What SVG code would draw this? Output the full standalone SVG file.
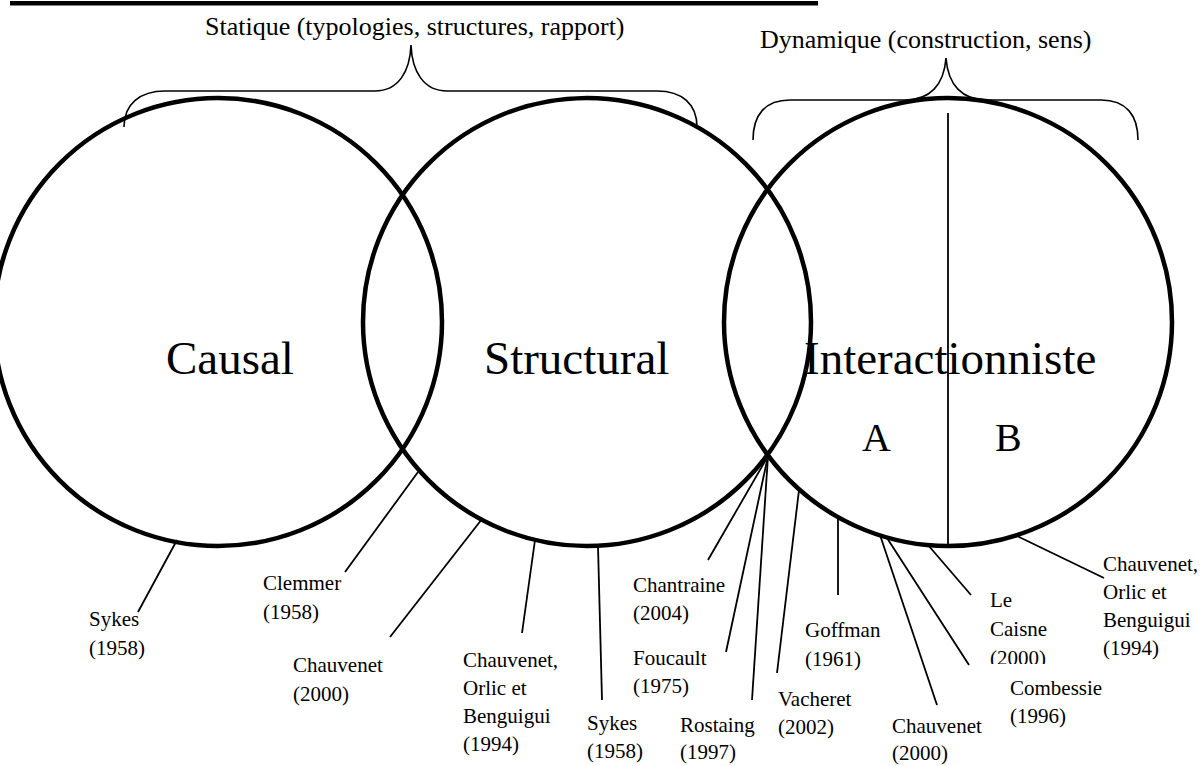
<svg xmlns="http://www.w3.org/2000/svg" width="1201" height="766" viewBox="0 0 1201 766">
<style>
.t{font-family:"Liberation Serif","Times New Roman",serif;fill:#000}
.s{font-size:21px}
.big{font-size:47px}
.top{font-size:26px}
.ring{fill:none;stroke:#000;stroke-width:4.5}
.ln{fill:none;stroke:#000;stroke-width:1.8}
.br{fill:none;stroke:#000;stroke-width:1.6}
</style>
<defs>
<clipPath id="clipLC"><rect x="980" y="570" width="100" height="94"/></clipPath>
</defs>
<rect x="10" y="1" width="808" height="4.5" fill="#000"/>
<g id="brace-statique">
<path class="br" d="M124 127 C124 104 140 91 165 91 L375 91 C398 91 410 72 411 45 C412 72 424 91 447 91 L657 91 C682 91 697 104 697 127"/>
<text class="t top" x="205" y="35">Statique (typologies, structures, rapport)</text>
</g>
<g id="brace-dynamique">
<path class="br" d="M753 140 C753 115 765 100 790 100 L905 100 C930 100 944 85 946 58 C948 85 962 100 987 100 L1101 100 C1126 100 1138 115 1138 140"/>
<text class="t top" x="760" y="48">Dynamique (construction, sens)</text>
</g>
<g id="causal">
<circle class="ring" cx="218" cy="322" r="224"/>
<text class="t big" x="166" y="374">Causal</text>
</g>
<g id="structural">
<circle class="ring" cx="587" cy="322" r="224"/>
<text class="t big" x="484" y="374">Structural</text>
</g>
<g id="interactionniste">
<circle class="ring" cx="948" cy="322" r="224"/>
<line class="ln" x1="948" y1="113" x2="948" y2="545"/>
<text class="t big" x="804" y="374">Interactionniste</text>
<text class="t" font-size="40" x="862" y="451">A</text>
<text class="t" font-size="40" x="995" y="451">B</text>
</g>
<g id="connectors">
<line class="ln" x1="177" y1="540" x2="138" y2="612"/>
<line class="ln" x1="418" y1="472" x2="345" y2="572"/>
<line class="ln" x1="482" y1="519" x2="390" y2="637"/>
<line class="ln" x1="535" y1="540" x2="522" y2="633"/>
<line class="ln" x1="598" y1="546" x2="602" y2="700"/>
<line class="ln" x1="768" y1="456" x2="708" y2="560"/>
<line class="ln" x1="768" y1="456" x2="726" y2="652"/>
<line class="ln" x1="768" y1="456" x2="752" y2="700"/>
<line class="ln" x1="799" y1="490" x2="777" y2="673"/>
<line class="ln" x1="838" y1="516" x2="838" y2="595"/>
<line class="ln" x1="880" y1="535" x2="937" y2="705"/>
<line class="ln" x1="887" y1="538" x2="969" y2="665"/>
<line class="ln" x1="928" y1="545" x2="971" y2="595"/>
<line class="ln" x1="1017" y1="536" x2="1104" y2="578"/>
</g>
<g id="lbl-sykes1"><text class="t s" x="89" y="626">Sykes</text><text class="t s" x="89" y="655">(1958)</text></g>
<g id="lbl-clemmer"><text class="t s" x="263" y="590">Clemmer</text><text class="t s" x="263" y="619">(1958)</text></g>
<g id="lbl-chauvenet1"><text class="t s" x="293" y="672">Chauvenet</text><text class="t s" x="293" y="701">(2000)</text></g>
<g id="lbl-cob1"><text class="t s" x="463" y="667">Chauvenet,</text><text class="t s" x="463" y="695">Orlic et</text><text class="t s" x="463" y="723">Benguigui</text><text class="t s" x="463" y="751">(1994)</text></g>
<g id="lbl-sykes2"><text class="t s" x="587" y="730">Sykes</text><text class="t s" x="587" y="758">(1958)</text></g>
<g id="lbl-chantraine"><text class="t s" x="633" y="592">Chantraine</text><text class="t s" x="633" y="620">(2004)</text></g>
<g id="lbl-foucault"><text class="t s" x="633" y="665">Foucault</text><text class="t s" x="633" y="693">(1975)</text></g>
<g id="lbl-rostaing"><text class="t s" x="680" y="732">Rostaing</text><text class="t s" x="680" y="759">(1997)</text></g>
<g id="lbl-vacheret"><text class="t s" x="778" y="706">Vacheret</text><text class="t s" x="778" y="734">(2002)</text></g>
<g id="lbl-goffman"><text class="t s" x="805" y="637">Goffman</text><text class="t s" x="805" y="666">(1961)</text></g>
<g id="lbl-chauvenet2"><text class="t s" x="892" y="733">Chauvenet</text><text class="t s" x="892" y="760">(2000)</text></g>
<g id="lbl-lecaisne" clip-path="url(#clipLC)"><text class="t s" x="990" y="607">Le</text><text class="t s" x="990" y="636">Caisne</text><text class="t s" x="990" y="665">(2000)</text></g>
<g id="lbl-combessie"><text class="t s" x="1010" y="695">Combessie</text><text class="t s" x="1010" y="723">(1996)</text></g>
<g id="lbl-cob2"><text class="t s" x="1103" y="571">Chauvenet,</text><text class="t s" x="1103" y="599">Orlic et</text><text class="t s" x="1103" y="627">Benguigui</text><text class="t s" x="1103" y="655">(1994)</text></g>
</svg>
